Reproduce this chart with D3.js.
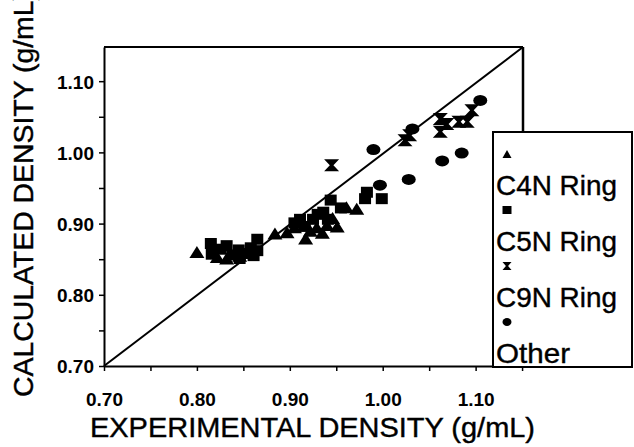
<!DOCTYPE html>
<html>
<head>
<meta charset="utf-8">
<script src="https://cdn.jsdelivr.net/npm/d3@7"></script>
<style>
  body { margin: 0; background: #fff; }
  svg { display: block; font-family: Arial, "Liberation Sans", sans-serif; }
  .tick text { font-weight: bold; font-size: 19px; fill: #000; }
  .ttl { stroke: #000; stroke-width: 0.4px; }
</style>
</head>
<body>
<script>
// values (g/mL)
const c4n = [
  [0.800, 0.860], [0.822, 0.853], [0.832, 0.851], [0.846, 0.855], [0.884, 0.886],
  [0.897, 0.888], [0.905, 0.895], [0.908, 0.905], [0.917, 0.879], [0.922, 0.890],
  [0.929, 0.895], [0.935, 0.887], [0.940, 0.898], [0.946, 0.908], [0.951, 0.896],
  [0.961, 0.923], [0.972, 0.921]
];
const c5n = [
  [0.815, 0.872], [0.816, 0.857], [0.825, 0.864], [0.832, 0.869], [0.838, 0.856],
  [0.845, 0.863], [0.846, 0.851], [0.852, 0.858], [0.858, 0.866], [0.861, 0.855],
  [0.865, 0.878], [0.865, 0.862], [0.905, 0.901], [0.911, 0.906], [0.916, 0.896],
  [0.925, 0.906], [0.930, 0.913], [0.936, 0.916], [0.941, 0.906], [0.944, 0.933],
  [0.955, 0.922], [0.983, 0.944], [0.981, 0.935], [0.999, 0.935]
];
const c9n = [
  [0.945, 0.982], [1.024, 1.017], [1.029, 1.024], [1.062, 1.047], [1.069, 1.040],
  [1.082, 1.043], [1.091, 1.043], [1.062, 1.029], [1.096, 1.059]
];
const other = [
  [0.990, 1.004], [0.997, 0.954], [1.028, 0.962], [1.032, 1.033], [1.064, 0.988],
  [1.085, 0.999], [1.105, 1.073]
];
const seriesNames = ["C4N Ring", "C5N Ring", "C9N Ring", "Other"];
const majorTicks = [0.70, 0.80, 0.90, 1.00, 1.10];
const allTicks = [0.70, 0.75, 0.80, 0.85, 0.90, 0.95, 1.00, 1.05, 1.10, 1.15];

const W = 634, H = 447;
const svg = d3.select("body").append("svg").attr("width", W).attr("height", H);

const x = d3.scaleLinear().domain([0.70, 1.151]).range([104, 523]);
const y = d3.scaleLinear().domain([0.70, 1.148]).range([366, 47]);

const fmt = d => majorTicks.some(m => Math.abs(m - d) < 1e-6) ? d3.format(".2f")(d) : "";

// axes
const gx = svg.append("g").attr("transform", `translate(0,${y(0.70)})`)
  .call(d3.axisBottom(x).tickValues(allTicks).tickFormat(fmt).tickSize(5).tickSizeOuter(0).tickPadding(22));
gx.select(".domain").attr("stroke-width", 2);
gx.selectAll(".tick line").attr("stroke-width", 1.5);

const gy = svg.append("g").attr("transform", `translate(${x(0.70)},0)`)
  .call(d3.axisLeft(y).tickValues(allTicks.slice(0, 9)).tickFormat(fmt).tickSize(5).tickSizeOuter(0).tickPadding(5));
gy.select(".domain").attr("stroke-width", 2);
gy.selectAll(".tick line").attr("stroke-width", 1.5);
gy.selectAll(".tick text").attr("dy", "0.36em");

// top and right frame
svg.append("line").attr("x1", x(0.70)).attr("x2", x(1.151)).attr("y1", y(1.148)).attr("y2", y(1.148))
  .attr("stroke", "#000").attr("stroke-width", 2);
svg.append("line").attr("x1", x(1.151)).attr("x2", x(1.151)).attr("y1", y(1.148)).attr("y2", y(0.70))
  .attr("stroke", "#000").attr("stroke-width", 2.5);

// y = x line
svg.append("line")
  .attr("x1", x(0.70)).attr("y1", y(0.70))
  .attr("x2", x(1.151)).attr("y2", y(1.148))
  .attr("stroke", "#000").attr("stroke-width", 2);

// marker shapes (the scan is slightly stretched horizontally)
const shapes = {
  tri: (w, h) => `M0,${-h / 2}L${w / 2},${h / 2}L${-w / 2},${h / 2}Z`,
  sq: (w, h) => `M${-w / 2},${-h / 2}H${w / 2}V${h / 2}H${-w / 2}Z`,
  hour: (w, h) => `M${-w / 2},${-h / 2}H${w / 2}L${w * 0.12},0L${w / 2},${h / 2}H${-w / 2}L${-w * 0.12},0Z`,
  dot: (w, h) => `M${-w / 2},0A${w / 2},${h / 2} 0 1,0 ${w / 2},0A${w / 2},${h / 2} 0 1,0 ${-w / 2},0Z`
};

function drawSeries(data, shape, w, h) {
  svg.append("g").selectAll("path").data(data).join("path")
    .attr("transform", d => `translate(${x(d[0])},${y(d[1])})`)
    .attr("d", shapes[shape](w, h))
    .attr("fill", "#000");
}
drawSeries(c5n, "sq", 12, 11);
drawSeries(c4n, "tri", 15, 12);
drawSeries(c9n, "hour", 15, 12);
drawSeries(other, "dot", 14, 11);

// legend
const lg = svg.append("g");
lg.append("rect").attr("x", 493).attr("y", 132).attr("width", 139).attr("height", 235)
  .attr("fill", "#fff").attr("stroke", "#000").attr("stroke-width", 2);
const legShapes = ["tri", "sq", "hour", "dot"];
const legLen = [121, 121, 121, 74];
seriesNames.forEach((name, i) => {
  const top = 154 + i * 56;
  lg.append("path").attr("transform", `translate(507,${top})`)
    .attr("d", shapes[legShapes[i]](9, 8)).attr("fill", "#000");
  lg.append("text").attr("class", "ttl").attr("x", 496).attr("y", top + 41).attr("font-size", 28)
    .attr("textLength", legLen[i]).attr("lengthAdjust", "spacingAndGlyphs").text(name);
});

// axis titles
svg.append("text").attr("class", "ttl").attr("x", 90).attr("y", 437)
  .attr("font-size", 28).attr("textLength", 445).attr("lengthAdjust", "spacingAndGlyphs")
  .text("EXPERIMENTAL DENSITY (g/mL)");
svg.append("text").attr("class", "ttl").attr("transform", "translate(33,397) rotate(-90)")
  .attr("font-size", 28).attr("textLength", 406).attr("lengthAdjust", "spacingAndGlyphs")
  .text("CALCULATED DENSITY (g/mL)");
</script>
</body>
</html>
